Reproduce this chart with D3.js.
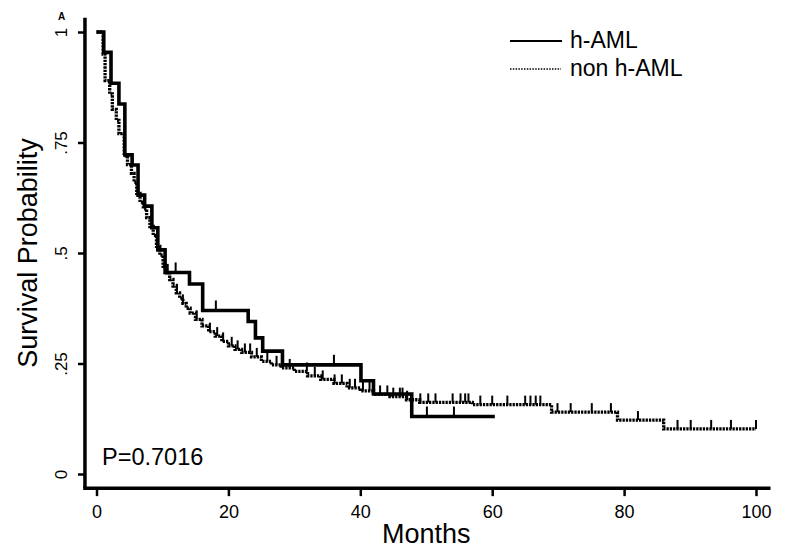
<!DOCTYPE html>
<html><head><meta charset="utf-8">
<script src="https://cdn.jsdelivr.net/npm/d3@7"></script>
<style>body{margin:0;background:#fff}svg{display:block}text{font-family:"Liberation Sans",Arial,sans-serif;fill:#000}</style>
</head><body>
<svg id="c" width="788" height="554"></svg>
<script>
// ---- data ----
const xTicks = [0, 20, 40, 60, 80, 100];
const yTicks = [0, 0.25, 0.5, 0.75, 1];
const yTickLabels = ["0", ".25", ".5", ".75", "1"];
const seriesNames = ["h-AML", "non h-AML"];

const hamlTimes = [0, 1.1, 2.2, 3.4, 4.3, 5.4, 6.3, 7.3, 8.4, 9.3, 10.4, 14.1, 16.1, 23.0, 24.1, 25.2, 28.2, 40.1, 42.0, 47.8];
const hamlSurv  = [1, 0.954, 0.884, 0.837, 0.722, 0.699, 0.631, 0.606, 0.557, 0.507, 0.456, 0.430, 0.370, 0.345, 0.308, 0.278, 0.247, 0.211, 0.181, 0.130];
const hamlEnd = 60.4;
const hamlCensor = [12.0, 18.1, 36.0, 50.1, 54.2];

const nonTimes = [0, 1.0, 1.3, 2.0, 2.4, 3.0, 3.4, 4.2, 4.7, 5.3, 5.7, 6.1, 6.6, 7.1, 7.6, 8.1, 8.6, 9.1, 9.6, 10.1, 10.6, 11.1, 11.6, 12.1, 12.6, 13.1, 13.6, 14.2, 15.0, 16.0, 17.0, 18.0, 19.0, 20.0, 21.0, 22.0, 23.5, 25.0, 26.5, 28.0, 30.0, 32.0, 34.0, 36.0, 38.0, 40.0, 42.0, 44.5, 47.0, 49.0, 57.0, 69.0, 79.0, 86.0];
const nonSurv  = [1, 0.95, 0.89, 0.86, 0.825, 0.80, 0.77, 0.72, 0.70, 0.68, 0.66, 0.635, 0.615, 0.60, 0.58, 0.56, 0.54, 0.515, 0.495, 0.47, 0.455, 0.44, 0.425, 0.41, 0.398, 0.386, 0.375, 0.364, 0.35, 0.335, 0.322, 0.312, 0.30, 0.29, 0.282, 0.275, 0.265, 0.255, 0.247, 0.24, 0.232, 0.222, 0.214, 0.205, 0.195, 0.188, 0.18, 0.175, 0.168, 0.162, 0.157, 0.14, 0.122, 0.102];
const nonEnd = 100;
const nonCensor = [10.8, 12.2, 13.1, 15.2, 17.2, 18.3, 19.2, 20.5, 21.4, 22.5, 23.3, 24.3, 25.9, 27.3, 29.3, 31.9, 33.1, 34.3, 36.1, 37.2, 38.4, 39.2, 40.4, 41.4, 43.0, 44.1, 45.0, 46.0, 46.4, 47.1, 49.1, 50.3, 51.4, 54.0, 55.2, 55.9, 56.4, 58.2, 60.0, 62.3, 65.0, 65.8, 66.6, 67.3, 69.9, 71.9, 75.1, 78.0, 82.1, 88.1, 90.1, 93.2, 96.2, 100];

const pText = "P=0.7016";
const xTitle = "Months";
const yTitle = "Survival Probability";
const panelLabel = "A";

// ---- chart ----
const svg = d3.select("#c");
const x = d3.scaleLinear().domain([0, 100]).range([96.5, 756]);
const y = d3.scaleLinear().domain([0, 1]).range([474, 32]);
const xMin = -1.75, xMax = 102.2, yMin = -0.032, yMax = 1.032;

function stepPts(times, surv, end) {
  const pts = times.map((t, i) => [t, surv[i]]);
  pts.push([end, surv[surv.length - 1]]);
  return pts;
}
function survAt(times, surv, t) {
  let s = surv[0];
  for (let i = 0; i < times.length; i++) if (times[i] <= t) s = surv[i];
  return s;
}
const line = d3.line().x(d => x(d[0])).y(d => y(d[1])).curve(d3.curveStepAfter);

// axes
const yAxis = d3.axisLeft(y).tickValues(yTicks).tickSize(7).tickFormat((d, i) => yTickLabels[i]);
const gy = svg.append("g").attr("transform", `translate(${x(xMin)},0)`).call(yAxis);
gy.select(".domain").remove();
gy.selectAll(".tick line").attr("stroke", "#000").attr("stroke-width", 2.5);
gy.selectAll(".tick text").attr("font-size", 17).attr("text-anchor", "middle")
  .attr("x", 0).attr("dy", 0).attr("transform", "translate(-18,0) rotate(-90)");
svg.append("line").attr("x1", x(xMin)).attr("x2", x(xMin)).attr("y1", y(yMax)).attr("y2", y(yMin))
  .attr("stroke", "#000").attr("stroke-width", 3.5);

const xAxis = d3.axisBottom(x).tickValues(xTicks).tickSize(8).tickFormat(d3.format("d"));
const gx = svg.append("g").attr("transform", `translate(0,${y(yMin)})`).call(xAxis);
gx.select(".domain").remove();
gx.selectAll(".tick line").attr("stroke", "#000").attr("stroke-width", 2.5);
gx.selectAll(".tick text").attr("font-size", 18).attr("y", 30).attr("dy", 0);
svg.append("line").attr("x1", x(xMin) - 1.75).attr("x2", x(xMax)).attr("y1", y(yMin)).attr("y2", y(yMin))
  .attr("stroke", "#000").attr("stroke-width", 3.5);

// titles
svg.append("text").attr("x", (x(0) + x(100)) / 2).attr("y", 543).attr("text-anchor", "middle")
  .attr("font-size", 27).text(xTitle);
svg.append("text").attr("transform", `translate(37,${y(0.5)}) rotate(-90)`).attr("text-anchor", "middle")
  .attr("font-size", 27).text(yTitle);
svg.append("text").attr("x", 58).attr("y", 20).attr("font-size", 10).attr("font-weight", "bold").text(panelLabel);
svg.append("text").attr("x", 102).attr("y", 465).attr("font-size", 23.5).text(pText);

// curves
svg.append("path").datum(stepPts(nonTimes, nonSurv, nonEnd)).attr("d", line)
  .attr("fill", "none").attr("stroke", "#000").attr("stroke-width", 3.3).attr("stroke-dasharray", "2.3,1");
svg.append("g").selectAll("line").data(nonCensor).join("line")
  .attr("x1", d => x(d)).attr("x2", d => x(d))
  .attr("y1", d => y(survAt(nonTimes, nonSurv, d)))
  .attr("y2", d => y(survAt(nonTimes, nonSurv, d)) - 9)
  .attr("stroke", "#000").attr("stroke-width", 2);

svg.append("path").datum(stepPts(hamlTimes, hamlSurv, hamlEnd)).attr("d", line)
  .attr("fill", "none").attr("stroke", "#000").attr("stroke-width", 3.6).attr("stroke-linejoin", "miter");
svg.append("g").selectAll("line").data(hamlCensor).join("line")
  .attr("x1", d => x(d)).attr("x2", d => x(d))
  .attr("y1", d => y(survAt(hamlTimes, hamlSurv, d)))
  .attr("y2", d => y(survAt(hamlTimes, hamlSurv, d)) - 10)
  .attr("stroke", "#000").attr("stroke-width", 2);

// legend
const leg = svg.append("g");
leg.append("line").attr("x1", 510).attr("x2", 562).attr("y1", 41).attr("y2", 41)
  .attr("stroke", "#000").attr("stroke-width", 2.2);
leg.append("line").attr("x1", 510).attr("x2", 561).attr("y1", 69).attr("y2", 69)
  .attr("stroke", "#000").attr("stroke-width", 1.6).attr("stroke-dasharray", "1.5,1.3");
leg.append("text").attr("x", 570).attr("y", 48).attr("font-size", 23).text(seriesNames[0]);
leg.append("text").attr("x", 570).attr("y", 76).attr("font-size", 23).text(seriesNames[1]);
</script>
</body></html>
